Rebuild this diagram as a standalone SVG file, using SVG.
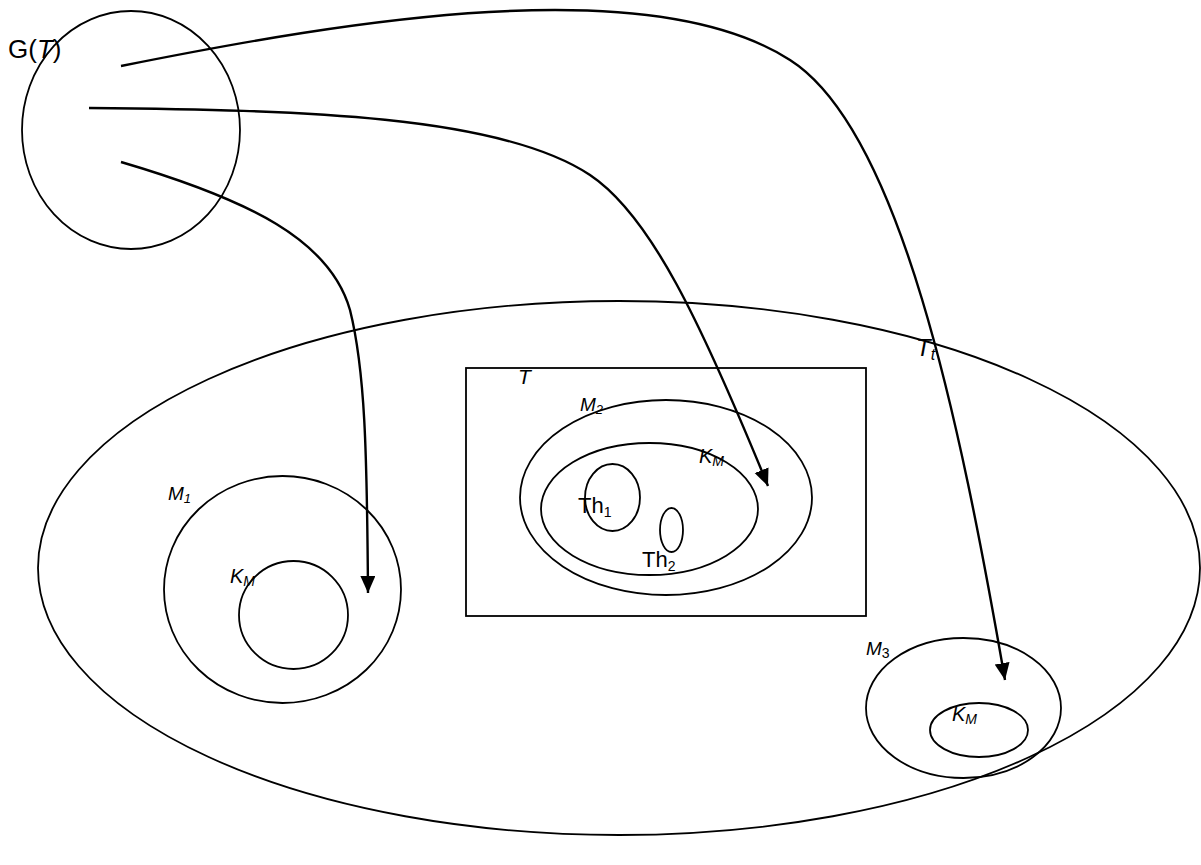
<svg xmlns="http://www.w3.org/2000/svg" width="1201" height="865" viewBox="0 0 1201 865">
<defs>
<style>
.sh{fill:none;stroke:#000;stroke-width:1.8}
.cn{fill:none;stroke:#000;stroke-width:2.4}
text{font-family:"Liberation Sans",Arial,sans-serif;fill:#000}
.it{font-style:italic}
</style>
<marker id="ah" markerUnits="userSpaceOnUse" markerWidth="20" markerHeight="16" refX="17" refY="7.5" orient="auto">
<path d="M0,0 L17,7.5 L0,15 Z" fill="#000"/>
</marker>
</defs>
<rect width="1201" height="865" fill="#fff"/>
<g id="Tt">
<ellipse class="sh" cx="619" cy="568" rx="581" ry="267"/>
<text x="916" y="356" font-size="24" class="it">T<tspan font-size="16" dy="4">t</tspan></text>
</g>
<g id="GT">
<ellipse class="sh" cx="131" cy="130" rx="109" ry="119"/>
<text x="8" y="58" font-size="26">G(<tspan class="it">T</tspan>)</text>
</g>
<g id="T">
<rect class="sh" x="466" y="368" width="400" height="248"/>
<text x="518" y="384" font-size="21" class="it">T</text>
</g>
<g id="M2">
<ellipse class="sh" cx="666" cy="497.5" rx="146" ry="97.5"/>
<text x="580" y="411" font-size="19" class="it">M<tspan font-size="13" dy="3">2</tspan></text>
</g>
<g id="KM2">
<ellipse class="sh" cx="649.5" cy="509" rx="108.5" ry="66"/>
<text x="699" y="463" font-size="20" class="it">K<tspan font-size="14" dy="3">M</tspan></text>
</g>
<g id="Th1">
<ellipse class="sh" cx="612.5" cy="497.5" rx="27.5" ry="33.5"/>
<text x="578" y="513" font-size="22">Th<tspan font-size="14" dy="4">1</tspan></text>
</g>
<g id="Th2">
<ellipse class="sh" cx="671.5" cy="530" rx="11.5" ry="22"/>
<text x="642" y="567" font-size="22">Th<tspan font-size="14" dy="4">2</tspan></text>
</g>
<g id="M1">
<ellipse class="sh" cx="282.5" cy="589.5" rx="118.5" ry="113.5"/>
<text x="168" y="500" font-size="19" class="it">M<tspan font-size="13" dy="3">1</tspan></text>
</g>
<g id="KM1">
<ellipse class="sh" cx="293.5" cy="615" rx="54.5" ry="54"/>
<text x="230" y="583" font-size="20" class="it">K<tspan font-size="14" dy="3">M</tspan></text>
</g>
<g id="M3">
<ellipse class="sh" cx="963.5" cy="708" rx="97.5" ry="70"/>
<text x="866" y="655" font-size="19"><tspan class="it">M</tspan><tspan font-size="14" dy="3">3</tspan></text>
</g>
<g id="KM3">
<ellipse class="sh" cx="979" cy="730" rx="49" ry="27"/>
<text x="952" y="721" font-size="20" class="it">K<tspan font-size="14" dy="3">M</tspan></text>
</g>
<g id="connectors">
<path class="cn" marker-end="url(#ah)" d="M121,66 C350,20 650,-30 790,60 C900,130 960,420 1005,680"/>
<path class="cn" marker-end="url(#ah)" d="M89,108 C300,110 500,115 590,175 C650,215 700,320 768,486"/>
<path class="cn" marker-end="url(#ah)" d="M121,162 C250,200 330,240 350,310 C365,370 367,450 368,593"/>
</g>
</svg>
